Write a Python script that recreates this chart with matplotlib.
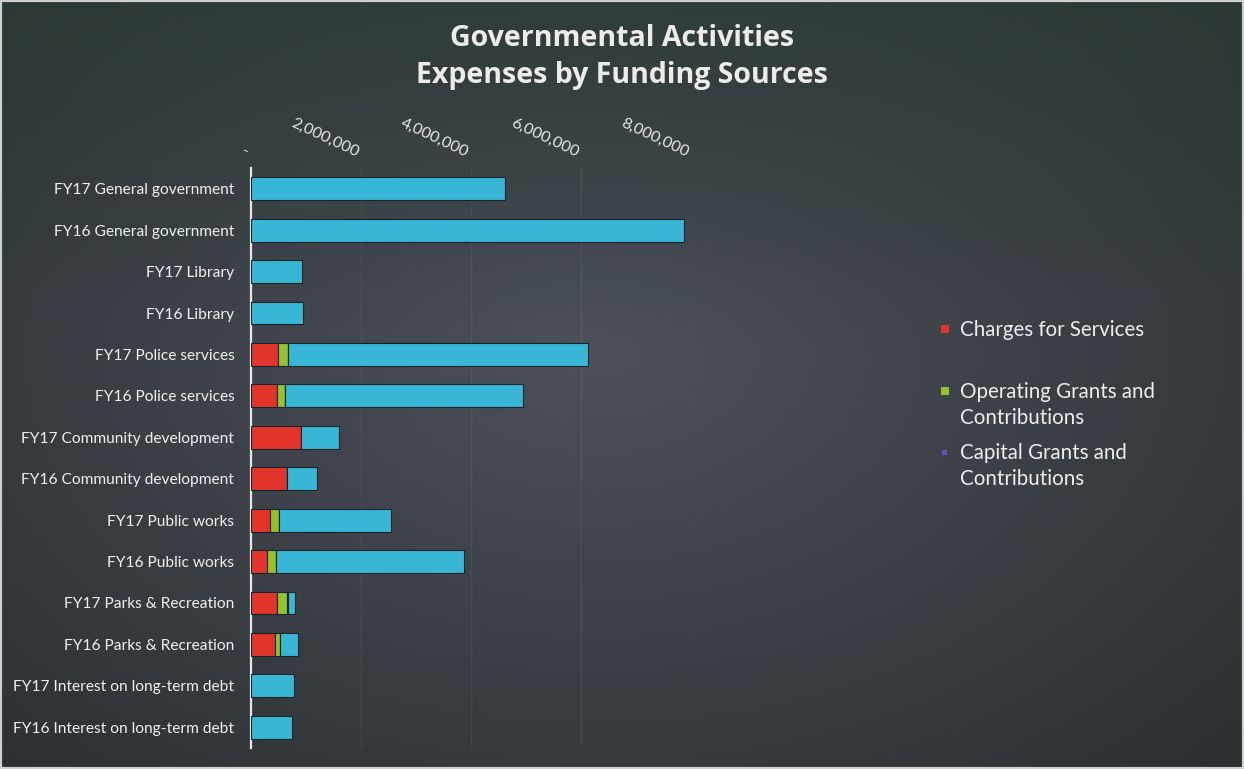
import numpy as np
import matplotlib
matplotlib.use("Agg")
import matplotlib.pyplot as plt
from matplotlib.patches import Rectangle
from matplotlib.ticker import FuncFormatter
import matplotlib.transforms as mtransforms

plt.rcParams['font.family'] = ['Lato', 'DejaVu Sans']

categories = [
    "FY17 General government", "FY16 General government",
    "FY17 Library", "FY16 Library",
    "FY17 Police services", "FY16 Police services",
    "FY17 Community development", "FY16 Community development",
    "FY17 Public works", "FY16 Public works",
    "FY17 Parks & Recreation", "FY16 Parks & Recreation",
    "FY17 Interest on long-term debt", "FY16 Interest on long-term debt",
]

# dollar amounts per function
charges = [0, 0, 0, 0, 490000, 470000, 910000, 650000, 350000, 290000, 470000, 440000, 0, 0]
operating = [0, 0, 0, 0, 180000, 150000, 0, 0, 150000, 160000, 180000, 90000, 0, 0]
capital = [0, 0, 0, 0, 0, 0, 0, 0, 0, 0, 30000, 0, 0, 0]
net_cost = [4620000, 7870000, 930000, 950000, 5460000, 4330000, 690000, 550000,
            2050000, 3420000, 120000, 320000, 780000, 750000]

series_names = ["Charges for Services", "Operating Grants and\nContributions",
                "Capital Grants and\nContributions"]

fig = plt.figure(figsize=(12.44, 7.69), dpi=100)

# dark textured backdrop
bg = fig.add_axes([0, 0, 1, 1], zorder=-10)
yy, xx = np.mgrid[0:1:200j, 0:1:320j]
r = np.sqrt(((xx - 0.48) / 0.75) ** 2 + ((yy - 0.45) / 0.8) ** 2)
t = np.clip(r, 0, 1)[..., None]
inner = np.array([0x4c, 0x51, 0x5a]) / 255
outer = np.array([0x2a, 0x2f, 0x31]) / 255
img = inner * (1 - t) + outer * t
green = np.array([0x2b, 0x3b, 0x37]) / 255
w = np.clip(1 - yy * 2.2, 0, 1)[..., None] * 0.6
img = img * (1 - w) + green * w
bg.imshow(img, aspect='auto', extent=[0, 1, 1, 0])
bg.set_xlim(0, 1)
bg.set_ylim(1, 0)
bg.axis('off')
fig.patches.append(Rectangle((0, 0), 1, 1, transform=fig.transFigure,
                             fill=False, edgecolor='#cfcfcf', linewidth=3))

ax = fig.add_axes([251 / 1244, 1 - 748 / 769, 440 / 1244, 580 / 769])
ax.set_facecolor('none')

y = np.arange(len(categories))
colors = ['#e3342b', '#95c12b', '#5b55c9', '#38b6d6']
edge = '#18242c'
left = np.zeros(len(categories))
for vals, col in zip([charges, operating, capital, net_cost], colors):
    ax.barh(y, vals, left=left, height=0.55, color=col,
            edgecolor=edge, linewidth=0.8, zorder=3)
    left = left + np.array(vals)

ax.set_ylim(len(categories) - 0.5, -0.5)
ax.set_xlim(0, 8000000)
ax.set_xticks([0, 2000000, 4000000, 6000000, 8000000])
ax.xaxis.set_major_formatter(FuncFormatter(lambda v, p: "-" if v == 0 else f"{v:,.0f}"))
ax.xaxis.tick_top()
ax.tick_params(axis='x', length=0, pad=6, colors='#e8e8e8', labelsize=11.5)
shift = mtransforms.ScaledTranslation(-6 / 100, 0, fig.dpi_scale_trans)
for lbl in ax.get_xticklabels():
    lbl.set_rotation(-25)
    lbl.set_ha('right')
    lbl.set_va('bottom')
    lbl.set_rotation_mode('anchor')
    lbl.set_transform(lbl.get_transform() + shift)

ax.set_yticks(y)
ax.set_yticklabels(categories)
ax.tick_params(axis='y', length=0, pad=12, colors='#f0f0f0', labelsize=11.2)

ax.grid(axis='x', color='white', alpha=0.05, linewidth=1, zorder=0)
for s in ['top', 'right', 'bottom']:
    ax.spines[s].set_visible(False)
ax.spines['left'].set_color('#e6e6e6')
ax.spines['left'].set_linewidth(1.6)

fig.text(0.5, 1 - 38 / 769, "Governmental Activities", ha='center', va='center',
         fontsize=20.5, fontweight='bold', color='#ececec', family=['Open Sans', 'DejaVu Sans'])
fig.text(0.5, 1 - 75 / 769, "Expenses by Funding Sources", ha='center', va='center',
         fontsize=20.5, fontweight='bold', color='#ececec', family=['Open Sans', 'DejaVu Sans'])

# legend entries
leg_y = [329, 391, 452]
marker_size = [8, 8, 5]
for name, col, ypx, ms in zip(series_names, colors, leg_y, marker_size):
    fig.patches.append(Rectangle(((945 - ms / 2) / 1244, 1 - (ypx + ms / 2) / 769),
                                 ms / 1244, ms / 769, transform=fig.transFigure,
                                 facecolor=col, edgecolor='none'))
    fig.text(960 / 1244, 1 - (ypx - 9) / 769, name, ha='left', va='top',
             fontsize=14.8, color='#eeeeee', linespacing=1.35)

fig.savefig("out.png", dpi=100)
